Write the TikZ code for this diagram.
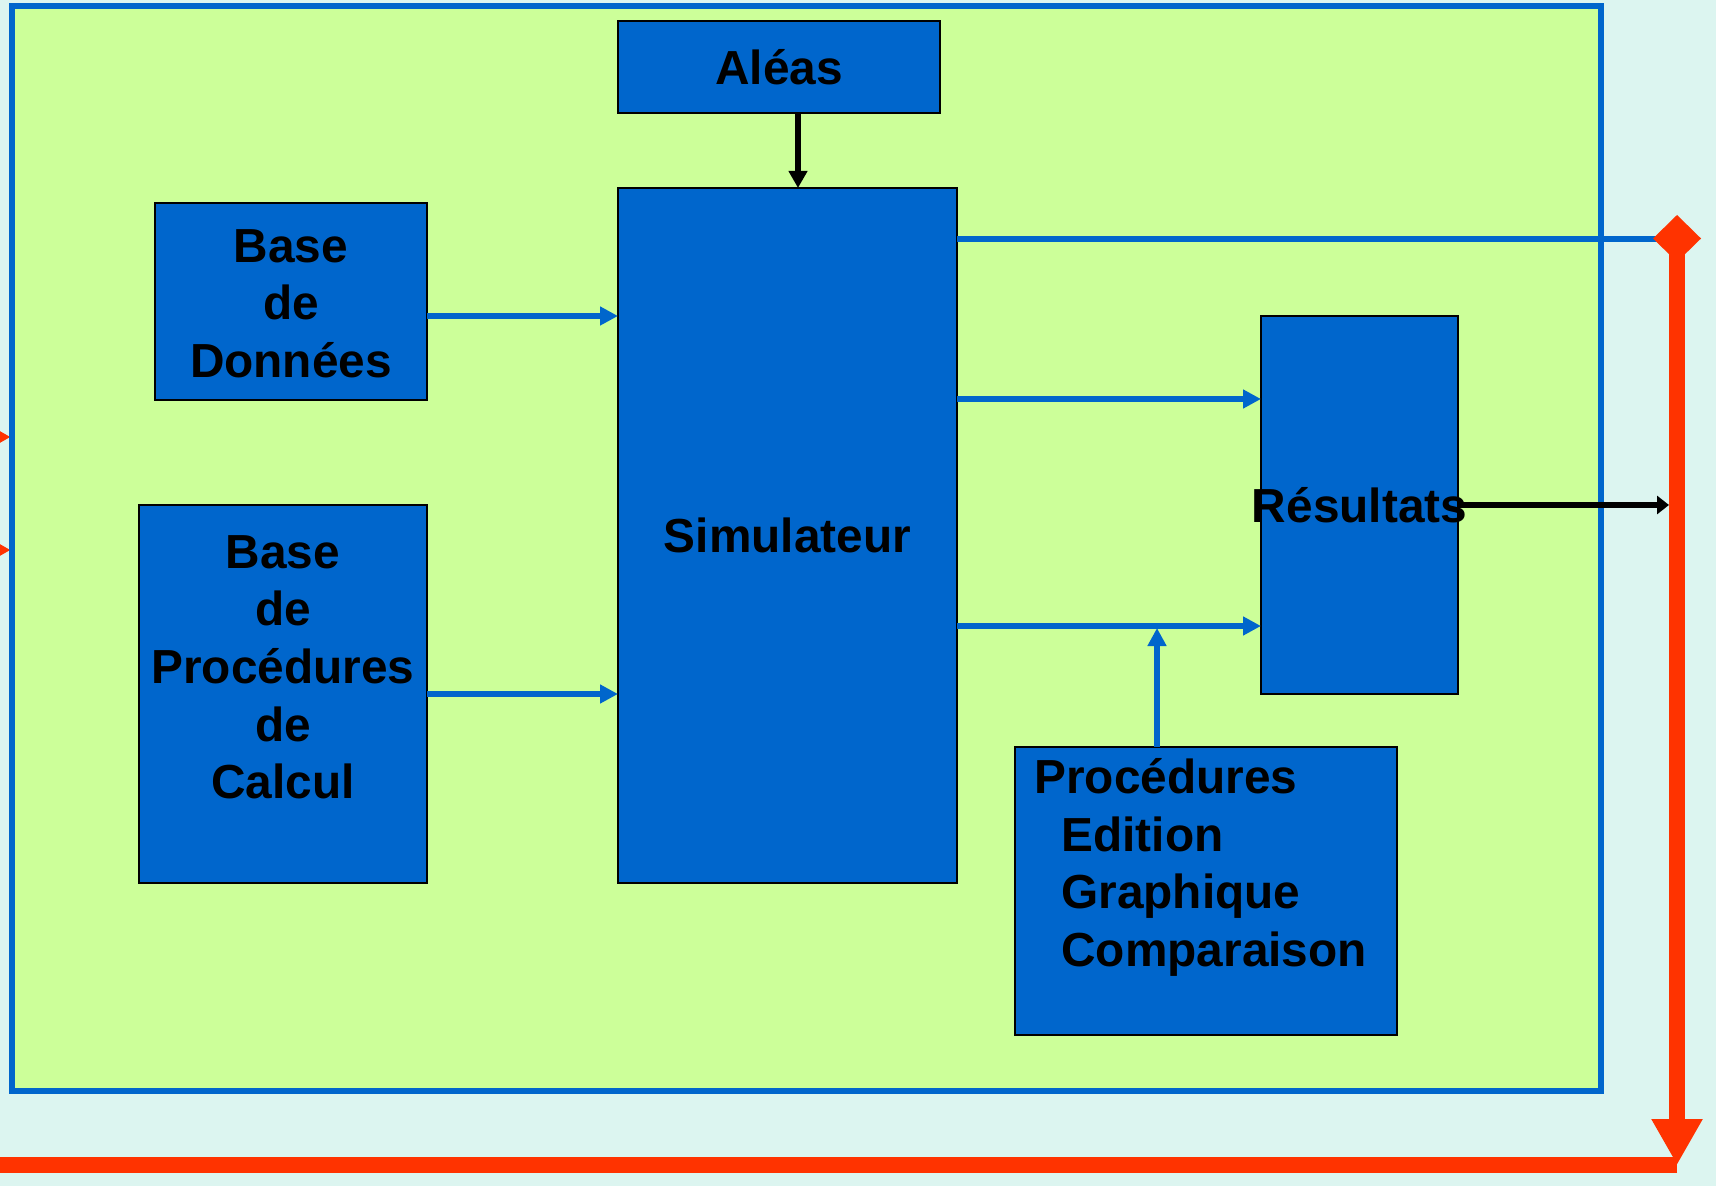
\documentclass[tikz,border=0pt]{standalone}
\usepackage{fontspec}
\setmainfont{Liberation Sans}
\usetikzlibrary{arrows.meta,calc}
\definecolor{bgc}{HTML}{DCF5F0}
\definecolor{grn}{HTML}{CCFF99}
\definecolor{blu}{HTML}{0066CC}
\definecolor{rd}{HTML}{FF3300}
\begin{document}
\begin{tikzpicture}[x=0.5pt,y=-0.5pt,
  box/.style={draw=black, line width=0.65pt, fill=blu, rectangle, inner sep=0pt, outer sep=0pt},
  txt/.style={inner sep=0pt, font=\fontsize{23.9pt}{28.8pt}\selectfont\bfseries, text=black},
  barrow/.style={draw=blu, line width=3pt, -{Triangle[length=9pt,width=9pt]}},
  karrow/.style={draw=black, line width=3pt, -{Triangle[length=8.5pt,width=9pt]}},
  rline/.style={draw=rd, line width=8pt},
  rhead/.style={-{Triangle[length=23pt,width=24pt]}}
]
\useasboundingbox (0,0) rectangle (1716,1186);
\clip (0,0) rectangle (1716,1186);
\fill[bgc] (0,0) rectangle (1716,1186);

% incoming red arrows on the left
\coordinate (inA) at (11,437);
\coordinate (inB) at (11,550);
\coordinate (srcA) at (-120,437);
\coordinate (srcB) at (-120,550);
\draw[rline,rhead] (srcA) -- (inA);
\draw[rline,rhead] (srcB) -- (inB);

% frame
\node[draw=blu, fill=grn, line width=3pt, rectangle, inner sep=0pt,
      minimum width=794.5pt, minimum height=542.5pt] (frame) at (806.5,548.5) {};

% boxes
\node[box, minimum width=161pt, minimum height=46pt] (aleas) at (779,67) {};
\node[box, minimum width=169.5pt, minimum height=347.5pt] (sim) at (787.5,535.5) {};
\node[box, minimum width=136pt, minimum height=98.5pt] (bd) at (291,301.5) {};
\node[box, minimum width=144pt, minimum height=189pt] (bpc) at (283,694) {};
\node[box, minimum width=98.5pt, minimum height=189pt] (res) at (1359.5,505) {};
\node[box, minimum width=191pt, minimum height=144pt] (proc) at (1206,891) {};

% coordinates
\coordinate (bend) at (1662,239);
\coordinate (dtop) at (1677,215);
\coordinate (corner) at (1677,1165);
\coordinate (offL) at (-10,1165);
\coordinate (rl) at (1669,0);
\coordinate (j) at (1157,628);

% blue connectors
\draw[draw=blu, line width=3pt] (sim.east |- bend) -- (bend);
\draw[barrow] ([yshift=-7.25pt]bd.east) -- ([yshift=-7.25pt]bd.east -| sim.west);
\draw[barrow] (bpc.east) -- (bpc.east -| sim.west);
\draw[barrow] ([yshift=53pt]res.west -| sim.east) -- ([yshift=53pt]res.west);
\draw[barrow] ([yshift=-60.5pt]res.west -| sim.east) -- ([yshift=-60.5pt]res.west);
\draw[barrow] (j |- proc.north) -- (j);

% black connectors
\draw[karrow] ([xshift=9.5pt]aleas.south) -- ([xshift=9.5pt]aleas.south |- sim.north);
\draw[draw=black, line width=3pt, -{Triangle[length=6pt,width=9pt]}] (res.east) -- (res.east -| rl);

% red loop
\draw[rline, {Diamond[length=23.5pt,width=24pt]}-{Triangle[length=23pt,width=24pt]}] (dtop) -- (corner);
\draw[rline] (corner) -- (offL);

% texts
\node[txt] (taleas) at (aleas.center) {Aléas};
\node[txt] (tsim) at (sim.center) {Simulateur};
\node[txt, align=center] (tbd) at ([yshift=-1pt]bd.center) {Base\\de\\Données};
\node[txt, align=center, anchor=north] (tbpc) at ([yshift=-15pt]bpc.north) {Base\\de\\Procédures\\de\\Calcul};
\node[txt] (tres) at (res.center) {Résultats};
\node[txt, align=left, anchor=north west] (tproc) at ([xshift=9.5pt,yshift=-5.5pt]proc.north west)
  {Procédures\\\hspace*{13.5pt}Edition\\\hspace*{13.5pt}Graphique\\\hspace*{13.5pt}Comparaison};
\end{tikzpicture}
\end{document}
